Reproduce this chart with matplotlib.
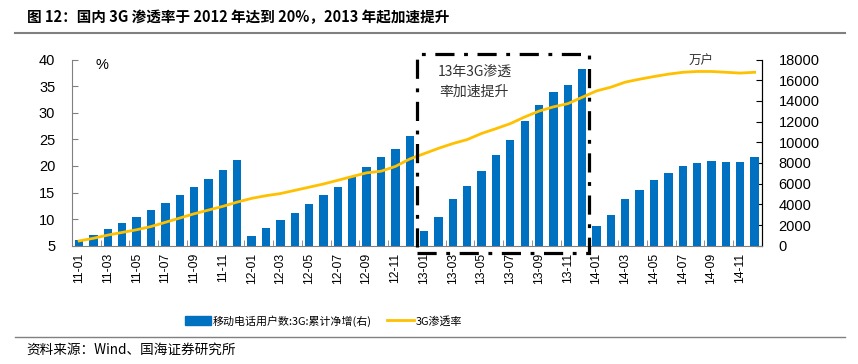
import matplotlib.pyplot as plt
from matplotlib.lines import Line2D
from matplotlib.patches import Rectangle

plt.rcParams['font.family'] = ['Liberation Sans', 'Noto Sans CJK SC', 'DejaVu Sans']

# 月份
months = [f'{y}-{m:02d}' for y in (11, 12, 13, 14) for m in range(1, 13)]

# 移动电话用户数:3G:累计净增(万户)
net_add = [550, 1040, 1620, 2180, 2790, 3440, 4150, 4890, 5700, 6480, 7350, 8320,
           940, 1690, 2470, 3200, 4020, 4890, 5700, 6600, 7610, 8540, 9360, 10620,
           1430, 2790, 4530, 5770, 7250, 8780, 10230, 12080, 13630, 14860, 15570, 17090,
           1910, 2980, 4470, 5410, 6380, 7030, 7670, 8000, 8230, 8130, 8060, 8540]

# 3G渗透率(%)
pen_rate = [5.9, 6.4, 7.0, 7.5, 8.0, 8.6, 9.4, 10.2, 11.0, 11.7, 12.4, 13.2,
            13.9, 14.4, 14.8, 15.4, 16.0, 16.6, 17.3, 18.0, 18.7, 19.0, 19.9, 21.3,
            22.3, 23.3, 24.2, 24.95, 26.1, 27.0, 27.95, 29.2, 30.3, 31.1, 31.7, 32.9,
            34.1, 34.8, 35.75, 36.3, 36.8, 37.25, 37.6, 37.75, 37.75, 37.6, 37.45, 37.6]

left_ticks = [5, 10, 15, 20, 25, 30, 35, 40]
right_ticks = list(range(0, 18001, 2000))

BLUE = '#0070C0'
GOLD = '#FFC000'
cjk = ['Noto Sans CJK SC', 'DejaVu Sans']


def main():
    fig = plt.figure(figsize=(8.58, 3.64), dpi=100)
    ax = fig.add_axes([0.0839, 0.325, 0.804, 0.5115])
    ax2 = ax.twinx()
    ax.set_zorder(ax2.get_zorder() + 1)
    ax.patch.set_visible(False)

    x = list(range(len(months)))
    ax2.bar(x, net_add, width=0.58, color=BLUE, zorder=2)
    ax.plot(x, pen_rate, color=GOLD, lw=2.0, zorder=3)

    ax.set_xlim(-0.5, len(months) - 0.5)
    ax.set_ylim(5, 40)
    ax2.set_ylim(0, 18000)
    ax.set_yticks(left_ticks)
    ax2.set_yticks(right_ticks)

    ax.set_xticks(x[::2])
    ax.set_xticklabels(months[::2], rotation=90, fontsize=8.8)
    ax.set_xticks([i + 0.5 for i in x[1::2]], minor=True)
    ax.tick_params(axis='x', which='major', length=0, pad=5)
    ax.tick_params(axis='x', which='minor', direction='in', length=4, color='#808080')
    ax.tick_params(axis='y', direction='in', length=4, color='#808080', labelsize=10.5, pad=12)
    ax2.tick_params(axis='y', direction='in', length=4, labelsize=10.5, pad=12)

    for a in (ax, ax2):
        a.spines['top'].set_visible(False)
    ax.spines['left'].set_color('#808080')
    ax.spines['bottom'].set_color('#808080')
    ax2.spines['left'].set_visible(False)
    ax2.spines['bottom'].set_visible(False)
    ax2.spines['right'].set_color('#202020')

    # 虚线框
    box = Rectangle((23.5, 3.6), 12.0, 37.5, fill=False, ec='black', lw=2.3,
                    ls=(0, (6, 3, 1.2, 3)), clip_on=False, zorder=5)
    ax.add_patch(box)
    ax.text(27.5, 35.9, '13年3G渗透\n率加速提升', ha='center', va='center',
            fontsize=10, family=cjk, color='#333333', linespacing=1.55)
    ax.text(1.6, 39.0, '%', ha='center', va='center', fontsize=10.5)
    ax.text(43.3, 39.6, '万户', ha='center', va='center', fontsize=9, family=cjk,
            color='#333333')

    # 图例
    handles = [Rectangle((0, 0), 1, 1, color=BLUE), Line2D([], [], color=GOLD, lw=2)]
    fig.legend(handles, ['移动电话用户数:3G:累计净增(右)', '3G渗透率'],
               loc='center', bbox_to_anchor=(0.377, 0.119), ncol=2, frameon=False,
               handlelength=2.4, handleheight=0.8, columnspacing=1.4,
               handletextpad=0.2, prop={'family': cjk, 'size': 7.9})

    # 标题与来源
    fig.text(0.031, 0.952, '图 12：国内 3G 渗透率于 2012 年达到 20%，2013 年起加速提升',
             ha='left', va='center', fontsize=10.5, weight='bold', family=cjk)
    fig.add_artist(Line2D([0.018, 0.985], [0.91, 0.91], color='#808080', lw=1.5))
    fig.add_artist(Line2D([0.018, 0.985], [0.074, 0.074], color='#808080', lw=1.0))
    fig.text(0.031, 0.038, '资料来源：Wind、国海证券研究所', ha='left', va='center',
             fontsize=9.8, family=cjk)

    fig.savefig('out.png', dpi=100)


if __name__ == "__main__":
    main()
